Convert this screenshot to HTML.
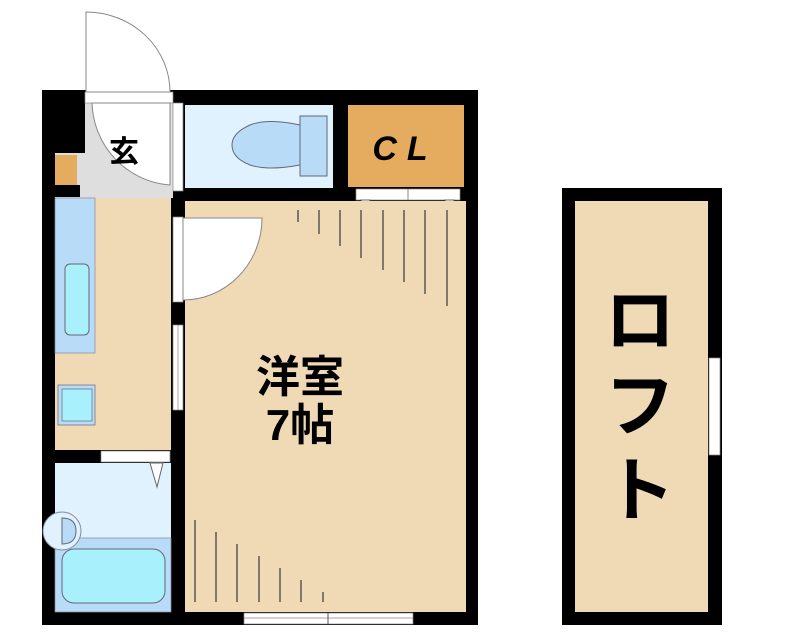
<!DOCTYPE html>
<html><head><meta charset="utf-8"><style>
html,body{margin:0;padding:0;background:#fff;width:800px;height:640px;overflow:hidden}
svg text{font-family:"Liberation Sans","Noto Sans CJK JP",sans-serif;font-weight:bold}
</style></head><body>
<svg width="800" height="640" viewBox="0 0 800 640" xmlns="http://www.w3.org/2000/svg">
<rect x="42" y="90" width="436" height="535" fill="#000"/>
<rect x="80" y="103" width="93" height="95" fill="#dedede"/>
<rect x="55" y="153" width="25" height="45" fill="#dedede"/>
<rect x="55" y="155" width="22" height="30" fill="#e5ab5e"/>
<rect x="42" y="90" width="43" height="63" fill="#000"/>
<rect x="42" y="185" width="38" height="12" fill="#000"/>
<rect x="85" y="92" width="88" height="11" fill="#fff" stroke="#888" stroke-width="0.7"/>
<path d="M86,12 L86,92 L170,92 A84,80 0 0 0 86,12 Z" fill="#fff" stroke="#888" stroke-width="1"/>
<path d="M92,103 A84,85 0 0 0 170,185 L170,103 Z" fill="#fff" stroke="#888" stroke-width="1"/>
<rect x="173" y="103" width="10" height="88" fill="#fff" stroke="#888" stroke-width="0.7"/>
<rect x="185" y="105" width="148" height="83" fill="#dff2fd"/>
<rect x="300" y="116" width="27" height="60" fill="#b8dcf8" stroke="#667" stroke-width="1"/>
<path d="M300,125 Q268,118 250,125 Q232,133 232,145 Q232,158 250,165 Q268,171 300,165 Z" fill="#b8dcf8" stroke="#667" stroke-width="1"/>
<rect x="348" y="105" width="116" height="82" fill="#e5ab5e"/>
<rect x="356" y="189" width="104" height="11" fill="#fff" stroke="#888" stroke-width="0.7"/>
<line x1="408" y1="189" x2="408" y2="200" stroke="#888"/>
<path d="M361,200 L370,200 L366,212 Z" fill="#fff" stroke="#666"/>
<path d="M445,200 L454,200 L450,212 Z" fill="#fff" stroke="#666"/>
<rect x="185" y="201" width="281" height="411" fill="#f0dab6"/>
<g stroke="#444" stroke-width="1.3">
<line x1="298" y1="210" x2="298" y2="222"/><line x1="319" y1="210" x2="319" y2="234"/>
<line x1="340" y1="210" x2="340" y2="246"/><line x1="361" y1="210" x2="361" y2="258"/>
<line x1="383" y1="210" x2="383" y2="270"/><line x1="404" y1="210" x2="404" y2="282"/>
<line x1="425" y1="210" x2="425" y2="294"/><line x1="447" y1="210" x2="447" y2="306"/>
<line x1="195" y1="520" x2="195" y2="602"/><line x1="216" y1="532" x2="216" y2="602"/>
<line x1="237" y1="544" x2="237" y2="602"/><line x1="259" y1="556" x2="259" y2="602"/>
<line x1="280" y1="568" x2="280" y2="602"/><line x1="301" y1="580" x2="301" y2="602"/>
<line x1="323" y1="592" x2="323" y2="602"/>
</g>
<rect x="173" y="217" width="10" height="85" fill="#fff" stroke="#888" stroke-width="0.7"/>
<path d="M183,218 L262,218 A79,82 0 0 1 183,300 Z" fill="#fff" stroke="#888"/>
<rect x="173" y="325" width="10" height="85" fill="#fff" stroke="#888" stroke-width="0.7"/>
<line x1="178" y1="325" x2="178" y2="410" stroke="#888" stroke-width="0.7"/>
<rect x="244" y="613" width="169" height="11" fill="#fff" stroke="#888" stroke-width="0.7"/>
<line x1="244" y1="618" x2="413" y2="618" stroke="#888" stroke-width="0.7"/>
<line x1="328" y1="613" x2="328" y2="624" stroke="#555"/>
<rect x="55" y="198" width="116" height="252" fill="#f0dab6"/>
<rect x="55" y="198" width="40" height="155" fill="#b8dcf8" stroke="#889" stroke-width="0.7"/>
<rect x="65" y="264" width="24" height="71" rx="5" fill="#a8f0fc" stroke="#667" stroke-width="1"/>
<rect x="58" y="385" width="37" height="40" fill="#b8dcf8" stroke="#667" stroke-width="0.7"/>
<rect x="62" y="389" width="30" height="32" fill="#a8f0fc" stroke="#667" stroke-width="0.7"/>
<rect x="101" y="451" width="69" height="11" fill="#fff" stroke="#888" stroke-width="0.7"/>
<rect x="55" y="463" width="116" height="149" fill="#dff2fd"/>
<path d="M150,463 L163,463 L157,487 Z" fill="#fff" stroke="#666"/>
<rect x="55" y="538" width="116" height="74" fill="#b8dcf8" stroke="#889" stroke-width="0.7"/>
<rect x="62" y="549" width="103" height="54" rx="12" fill="#a8f0fc" stroke="#667" stroke-width="1"/>
<circle cx="62" cy="531" r="19" fill="#dff2fd" stroke="#889" stroke-width="1"/>
<path d="M62,518 Q76,518 76,531 Q76,544 62,544 Z" fill="#b8dcf8" stroke="#667" stroke-width="1"/>
<text x="124" y="162" font-size="30" text-anchor="middle">玄</text>
<text x="405" y="160" font-size="34" font-style="italic" text-anchor="middle" letter-spacing="10">CL</text>
<text x="300" y="392" font-size="44" text-anchor="middle">洋室</text>
<text x="300" y="440" font-size="44" text-anchor="middle">7帖</text>
<rect x="562" y="188" width="160" height="437" fill="#000"/>
<rect x="575" y="201" width="133" height="411" fill="#f0dab6"/>
<rect x="709" y="358" width="11" height="97" fill="#fff" stroke="#888" stroke-width="0.7"/>
<text x="640" y="345" font-size="70" text-anchor="middle">ロ</text>
<text x="640" y="430" font-size="70" text-anchor="middle">フ</text>
<text x="640" y="515" font-size="70" text-anchor="middle">ト</text>
</svg>
</body></html>
